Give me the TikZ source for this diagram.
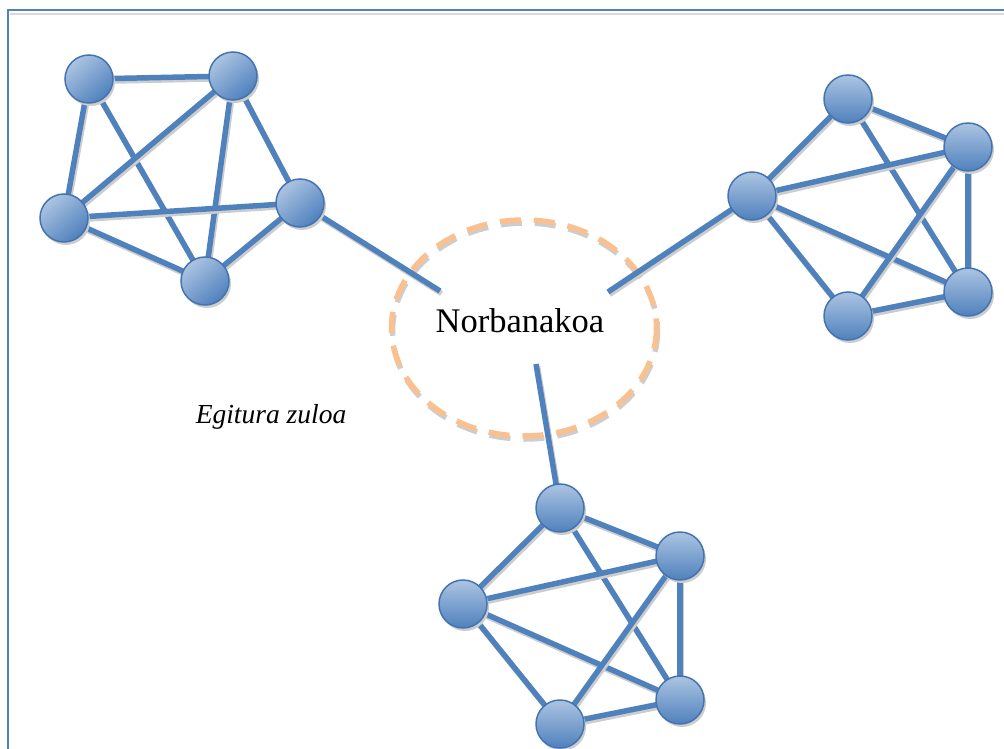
\documentclass[tikz,border=0pt]{standalone}
\usepackage{fontspec}
\setmainfont{Liberation Serif}
\usetikzlibrary{shadows,backgrounds,shapes.geometric}
\definecolor{nblue}{RGB}{79,129,189}
\definecolor{nlight}{RGB}{172,196,226}
\definecolor{nborder}{RGB}{68,116,176}
\definecolor{nshadow}{RGB}{205,205,205}
\definecolor{orangedash}{RGB}{250,192,144}
\tikzset{
  vertex/.style={circle, minimum size=48pt, inner sep=0pt, draw=nborder, line width=1.5pt,
    top color=nlight, bottom color=nblue,
    drop shadow={shadow xshift=2pt, shadow yshift=-3pt, fill=nshadow, opacity=1}},
  vertexdiag/.style={vertex, shading angle=40},
  link/.style={line width=5.5pt, nblue,
    preaction={draw=nshadow, line width=5.5pt, transform canvas={xshift=1.5pt, yshift=-2.5pt}}},
  ringline/.style={line width=5.5pt, orangedash, dash pattern=on 21pt off 13pt,
    preaction={draw=nshadow, line width=5.5pt, dash pattern=on 21pt off 13pt, transform canvas={xshift=1pt, yshift=-3pt}}},
  framebar/.style={nblue, line width=2.5pt},
  frameshade/.style={gray!30, line width=2pt},
  mainlabel/.style={font=\fontsize{34.5}{40}\selectfont, anchor=base, inner sep=0pt},
  sidelabel/.style={font=\itshape\fontsize{27.5}{32}\selectfont, anchor=base, inner sep=0pt},
}
\begin{document}
\begin{tikzpicture}[x=1pt, y=-1pt]
\useasboundingbox (0,0) rectangle (1004,749);
% frame
\draw[frameshade] (10,14.5) -- (1010,14.5);
\draw[framebar] (8,760) -- (8,10) -- (1010,10);

% cluster A (top left)
\node[vertexdiag] (A1) at (89,79) {};
\node[vertexdiag] (A2) at (233,76) {};
\node[vertexdiag] (A3) at (300,203) {};
\node[vertexdiag] (A4) at (205,281) {};
\node[vertexdiag] (A5) at (64,218) {};

% cluster B (right)
\node[vertex] (B1) at (848,99) {};
\node[vertex] (B2) at (968,147) {};
\node[vertex] (B3) at (968,292) {};
\node[vertex] (B4) at (848,316) {};
\node[vertex] (B5) at (752,196) {};

% cluster C (bottom)
\node[vertex] (C1) at (560,508) {};
\node[vertex] (C2) at (680,556) {};
\node[vertex] (C3) at (680,700) {};
\node[vertex] (C4) at (560,724) {};
\node[vertex] (C5) at (463,604) {};

% central ellipse and labels
\node[ellipse, minimum width=265pt, minimum height=216pt, inner sep=0pt] (ell) at (524,328) {};
\node[mainlabel] (lbl) at (520,332) {Norbanakoa};
\node[sidelabel] (hole) at (271,423) {Egitura zuloa};
\coordinate (e1) at (440,291);
\coordinate (e2) at (608,292);
\coordinate (e3) at (536,364);

\begin{scope}[on background layer]
  \draw[ringline] (ell.center) ellipse [x radius=132.5, y radius=108];
  % cluster A edges
  \draw[link] (A1.center) -- (A2.center);
  \draw[link] (A1.center) -- (A5.center);
  \draw[link] (A1.center) -- (A4.center);
  \draw[link] (A2.center) -- (A5.center);
  \draw[link] (A2.center) -- (A4.center);
  \draw[link] (A2.center) -- (A3.center);
  \draw[link] (A5.center) -- (A3.center);
  \draw[link] (A5.center) -- (A4.center);
  \draw[link] (A3.center) -- (A4.center);
  \draw[link] (A3.center) -- (e1);
  % cluster B edges
  \draw[link] (B5.center) -- (B1.center);
  \draw[link] (B1.center) -- (B2.center);
  \draw[link] (B1.center) -- (B3.center);
  \draw[link] (B5.center) -- (B2.center);
  \draw[link] (B5.center) -- (B3.center);
  \draw[link] (B2.center) -- (B4.center);
  \draw[link] (B2.center) -- (B3.center);
  \draw[link] (B5.center) -- (B4.center);
  \draw[link] (B4.center) -- (B3.center);
  \draw[link] (B5.center) -- (e2);
  % cluster C edges
  \draw[link] (C5.center) -- (C1.center);
  \draw[link] (C1.center) -- (C2.center);
  \draw[link] (C1.center) -- (C3.center);
  \draw[link] (C5.center) -- (C2.center);
  \draw[link] (C5.center) -- (C3.center);
  \draw[link] (C2.center) -- (C4.center);
  \draw[link] (C2.center) -- (C3.center);
  \draw[link] (C5.center) -- (C4.center);
  \draw[link] (C4.center) -- (C3.center);
  \draw[link] (C1.center) -- (e3);
\end{scope}
\end{tikzpicture}
\end{document}
